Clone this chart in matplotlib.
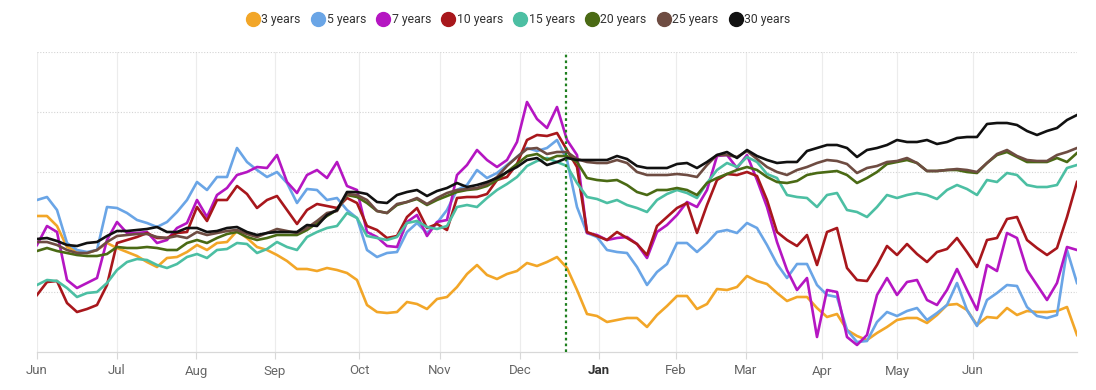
import matplotlib
matplotlib.use("Agg")
import matplotlib.pyplot as plt
from matplotlib.lines import Line2D
import numpy as np

plt.rcParams['font.family'] = ['Roboto', 'DejaVu Sans']

# ---- data (relative level, unlabeled y scale) ----
series_names = ["3 years", "5 years", "7 years", "10 years", "15 years", "20 years", "25 years", "30 years"]
colors = ["#F2A628", "#6AA5E6", "#B516C2", "#A8171C", "#4CBFA3", "#4A6A14", "#6E4C42", "#111111"]

y3 = [136,136,126,105,101,99,102,109,104,100,
      96,90,85,94,95,100,107,102,109,110,
      121,114,105,102,97,91,83,83,81,84,
      82,79,72,47,40,39,40,50,48,43,
      53,55,65,78,87,77,73,78,81,89,
      86,90,95,84,62,38,36,30,32,34,
      34,25,37,46,56,56,43,48,63,62,
      65,76,71,68,59,51,55,55,44,35,
      38,22,16,12,19,25,32,34,34,29,
      37,47,48,42,27,35,34,44,37,41,
      40,40,41,45,17]
y5 = [152,155,142,109,102,100,102,145,144,139,
      132,129,125,130,140,152,170,162,175,175,
      204,190,182,175,180,169,149,163,162,152,
      154,142,134,102,95,99,100,120,129,119,
      129,142,162,167,182,174,179,187,195,204,
      201,204,212,192,145,119,115,102,100,99,
      85,67,80,88,109,109,100,109,120,122,
      119,129,124,107,88,74,88,88,67,57,
      55,22,10,11,30,40,36,41,44,32,
      39,47,69,42,26,52,59,67,66,45,
      36,34,37,102,69]
y7 = [107,126,120,72,64,69,74,112,130,119,
      119,120,109,112,124,129,152,135,157,164,
      177,180,185,184,197,170,159,177,182,174,
      190,166,162,120,115,106,105,130,137,116,
      130,132,177,187,202,192,185,192,210,250,
      233,224,245,212,197,119,117,112,114,115,
      108,94,120,127,137,150,145,162,196,197,
      184,197,172,145,110,82,62,74,15,62,
      60,15,7,17,57,74,57,70,72,52,
      47,62,83,62,42,87,81,119,114,82,
      67,52,69,105,102]
y10 = [57,70,71,49,40,43,47,67,109,112,
       115,119,114,114,119,120,145,131,152,152,
       166,158,144,152,156,142,128,142,148,146,
       144,154,149,126,122,114,116,135,144,124,
       128,122,154,155,155,158,172,175,188,212,
       217,216,219,202,185,120,116,112,120,114,
       108,97,126,135,144,149,119,147,172,178,
       177,180,176,152,120,112,106,117,87,120,
       124,84,72,71,87,106,97,108,98,90,
       100,103,114,100,85,112,114,133,135,112,
       104,97,104,135,170]
y15 = [67,72,71,64,55,59,60,69,82,90,
       93,92,87,84,88,95,98,94,102,103,
       109,108,99,103,110,105,102,115,120,124,
       126,139,134,116,114,112,115,129,131,125,
       123,126,145,147,145,154,162,168,175,186,
       191,194,190,186,169,155,153,149,152,147,
       144,140,152,158,162,159,154,169,182,189,
       185,195,190,178,174,157,155,154,145,157,
       159,142,140,135,145,157,154,157,159,157,
       153,162,167,163,157,172,170,179,177,167,
       165,165,167,184,187]
y20 = [101,104,101,99,97,96,96,98,105,104,
       104,105,104,102,102,109,112,109,114,118,
       120,115,112,114,117,117,117,122,129,136,
       142,157,155,149,141,139,147,150,153,147,
       152,156,160,162,163,166,172,180,188,196,
       198,192,196,196,190,174,172,171,172,167,
       160,157,162,162,164,162,157,169,174,178,
       182,185,182,175,170,169,171,177,179,180,
       181,177,169,174,180,188,190,192,189,181,
       181,182,182,180,179,189,197,200,195,190,
       190,190,194,190,199]
y25 = [110,110,107,102,99,99,102,110,116,117,
       118,118,115,114,116,114,120,117,119,121,
       122,118,115,119,123,121,119,124,131,139,
       141,158,157,152,141,139,148,150,154,148,
       154,159,162,163,164,168,175,186,195,203,
       204,198,200,200,193,190,189,189,192,189,
       180,177,177,177,178,177,175,187,197,197,
       195,201,193,185,180,177,182,185,189,192,
       191,188,179,184,186,190,191,194,189,181,
       181,182,183,182,180,189,198,202,196,192,
       191,191,197,200,204]
y30 = [113,114,111,107,106,109,110,116,121,121,
       122,123,125,120,120,124,124,120,121,124,
       125,120,117,119,120,120,120,127,126,137,
       142,160,160,158,150,149,157,160,162,156,
       161,164,169,165,167,170,174,180,185,192,
       194,187,190,194,192,192,192,192,196,193,
       186,184,184,184,188,189,184,190,197,200,
       194,202,196,192,189,190,190,201,204,207,
       207,204,195,202,204,207,212,210,210,212,
       208,210,214,215,215,228,229,229,227,221,
       217,221,224,232,237]

month_labels = ["Jun", "Jul", "Aug", "Sep", "Oct", "Nov", "Dec", "Jan", "Feb", "Mar", "Apr", "May", "Jun"]
month_pos = [0, 8.0, 15.9, 23.8, 32.2, 40.3, 48.3, 56.2, 63.9, 70.9, 78.5, 86.0, 93.6]
marker_pos = 52.9

all_series = [y3, y5, y7, y10, y15, y20, y25, y30]
t = np.arange(len(y3))

fig = plt.figure(figsize=(10.96, 3.90), dpi=100)
ax = fig.add_axes([37/1096, 38/390, (1077-37)/1096, (352-52)/390])

# grid
for p in month_pos:
    ax.axvline(p, color="#ececec", lw=0.8, zorder=0)
for g in [60, 120, 180, 240, 300]:
    ax.axhline(g, color="#d4d4d4", lw=0.8, ls=(0, (1, 1.5)), zorder=0)

for vals, c, name in zip(all_series, colors, series_names):
    ax.plot(t, vals, color=c, lw=1.9, label=name, solid_joinstyle="round", zorder=2)

ax.axvline(marker_pos, color="#1E7F1E", lw=1.6, ls=(0, (1.2, 1.4)), zorder=3)

ax.set_xlim(0, len(y3) - 1)
ax.set_ylim(0, 300)
ax.set_yticks([])
for s in ["top", "right", "left"]:
    ax.spines[s].set_visible(False)
ax.spines["bottom"].set_color("#d8d8d8")
ax.spines["bottom"].set_linewidth(0.9)
ax.set_xticks(month_pos)
ax.set_xticklabels(month_labels)
ax.tick_params(axis="x", length=5, color="#d8d8d8", width=0.8, labelsize=9.5, labelcolor="#666666", pad=4)
for lbl in ax.get_xticklabels():
    if lbl.get_text() == "Jan":
        lbl.set_fontweight("bold")
        lbl.set_color("#333333")

handles = [Line2D([], [], marker="o", ls="none", markersize=10, markerfacecolor=c, markeredgecolor=c) for c in colors]
fig.legend(handles, series_names, loc="center", bbox_to_anchor=(0.4735, 1 - 20/390), ncol=8, frameon=False,
           fontsize=8.8, handletextpad=0.25, columnspacing=0.95, labelcolor="#333333", borderaxespad=0,
           handlelength=0.9)

fig.savefig("out.png", dpi=100)
